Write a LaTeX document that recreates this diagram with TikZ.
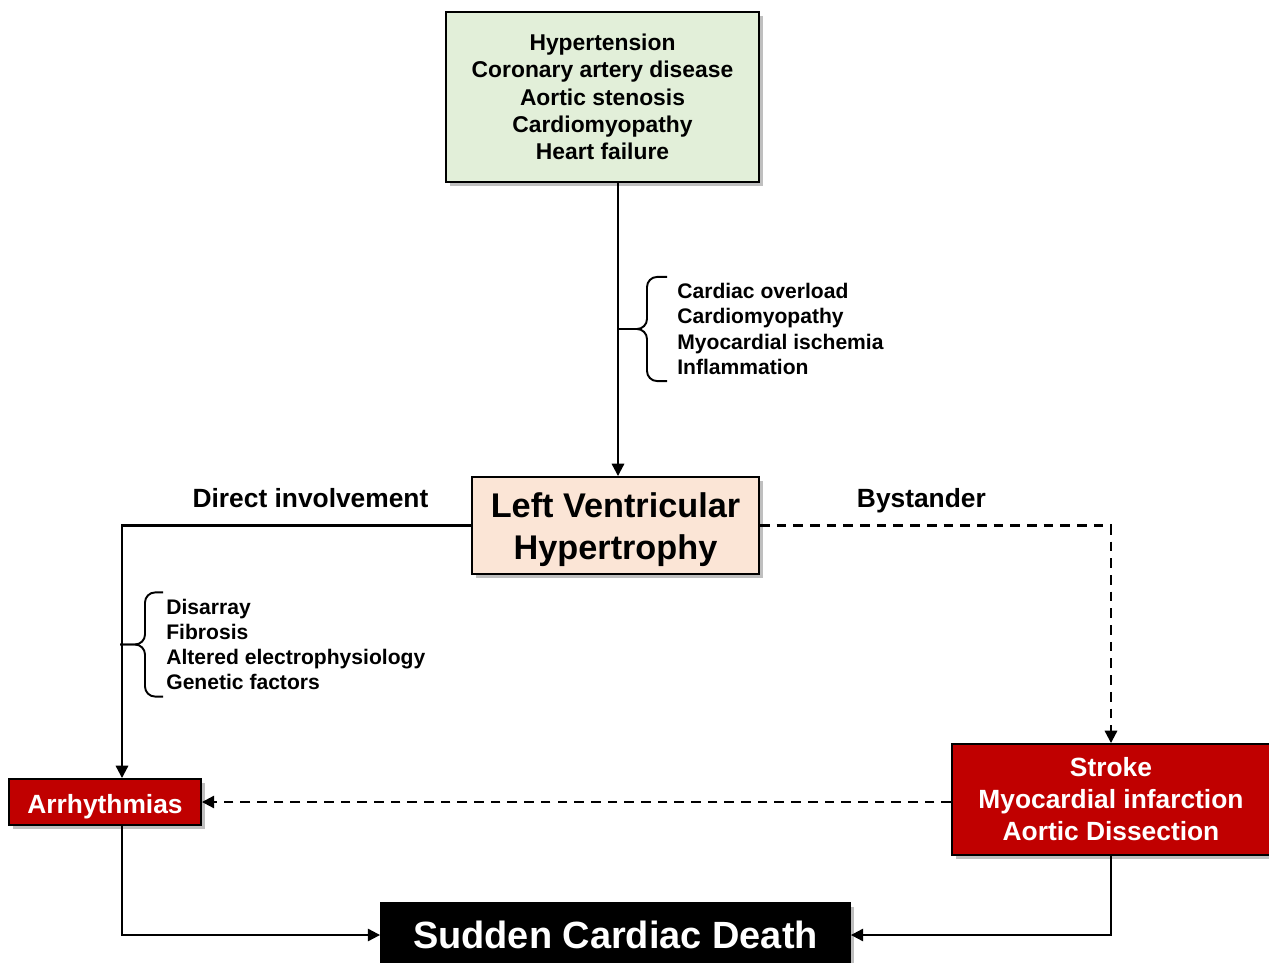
\documentclass[tikz,border=0pt]{standalone}
\usepackage{fontspec}
\setmainfont{Liberation Sans}
\usetikzlibrary{arrows.meta,positioning,calc,shadows}
\definecolor{boxgreen}{HTML}{E2EFD9}
\definecolor{boxpeach}{HTML}{FBE5D6}
\definecolor{boxred}{HTML}{C00000}
\tikzset{
    %Define standard arrow tip
    >={Triangle[length=7pt,width=7pt]},
    %Define style for boxes
    kasse/.style={
           rectangle,
           draw=black,
           line width=1.1pt,
           align=center,
           drop shadow={shadow xshift=0.08cm, shadow yshift=-0.08cm, fill=black!50, opacity=0.5}},
    redkasse/.style={
           kasse,
           fill=boxred,
           text=white},
    % Define arrow style
    pil/.style={
           ->,
           line width=1.2pt},
    stiplet/.style={
           pil,
           dash pattern=on 5.5pt off 4pt},
    % Define brace and text styles
    klamme/.style={
           line width=1.1pt,
           rounded corners=0.2cm},
    liste/.style={
           align=left,
           inner sep=0pt,
           font=\bfseries\fontsize{12}{14.4}\selectfont},
    lbl/.style={
           anchor=base,
           yshift=0.37cm,
           font=\bfseries\fontsize{15}{18}\selectfont}
}
\begin{document}
\begin{tikzpicture}[x=0.02cm, y=-0.02cm]
  \useasboundingbox (0,0) rectangle (1269,963);
  % boxes
  \node[kasse, fill=boxgreen, minimum width=6.26cm, minimum height=3.4cm,
        font=\bfseries\fontsize{13}{15.6}\selectfont] (causes) at (602.5,97)
       {Hypertension\\Coronary artery disease\\Aortic stenosis\\Cardiomyopathy\\Heart failure};
  \node[kasse, fill=boxpeach, minimum width=5.74cm, minimum height=1.94cm,
        font=\bfseries\fontsize{19.5}{23.9}\selectfont] (lvh) at (615.5,525.5)
       {\rule{0pt}{0.96em}Left Ventricular\\Hypertrophy};
  \node[redkasse, minimum width=3.84cm, minimum height=0.92cm,
        font=\bfseries\fontsize{15}{18}\selectfont] (arr) at (105,802)
       {\rule{0pt}{1.05em}Arrhythmias};
  \node[redkasse, minimum width=6.36cm, minimum height=2.22cm,
        font=\bfseries\fontsize{15}{18.2}\selectfont] (stroke) at (1111,799.5)
       {Stroke\\Myocardial infarction\\Aortic Dissection};
  \node[kasse, fill=black, text=white, minimum width=9.38cm, minimum height=1.3cm,
        font=\bfseries\fontsize{21.6}{26}\selectfont] (scd) at (615.5,935) {Sudden Cardiac Death};

  % mechanisms with braces
  \node[liste, anchor=west] (mech1) at (677,329)
       {Cardiac overload\\Cardiomyopathy\\Myocardial ischemia\\Inflammation};
  \draw[klamme] ([xshift=-0.2cm,yshift=0.12cm]mech1.north west) -- ++(-20,0)
                |- ([xshift=-1.18cm]mech1.west);
  \draw[klamme] ([xshift=-0.2cm,yshift=-0.12cm]mech1.south west) -- ++(-20,0)
                |- ([xshift=-1.18cm]mech1.west);
  \node[liste, anchor=west] (mech2) at (166,644.5)
       {Disarray\\Fibrosis\\Altered electrophysiology\\Genetic factors};
  \draw[klamme] ([xshift=-0.06cm,yshift=0.12cm]mech2.north west) -- ++(-18,0)
                |- ([xshift=-0.92cm]mech2.west);
  \draw[klamme] ([xshift=-0.06cm,yshift=-0.12cm]mech2.south west) -- ++(-18,0)
                |- ([xshift=-0.92cm]mech2.west);

  % connectors
  \draw[pil] ($(causes.south -| lvh.north)+(2.5,0)$) -- ($(lvh.north)+(2.5,0)$);
  \draw[pil] (lvh.west) -| node[lbl, pos=0.23] {Direct involvement}
             ($(arr.north)+(17,0)$);
  \draw[stiplet] (lvh.east) -| node[lbl, pos=0.23] {Bystander} (stroke.north);
  \draw[stiplet] (stroke.west |- arr.east) -- (arr.east);
  \draw[pil] ($(arr.south)+(17,0)$) |- (scd.west);
  \draw[pil] (stroke.south) |- (scd.east);
\end{tikzpicture}
\end{document}
